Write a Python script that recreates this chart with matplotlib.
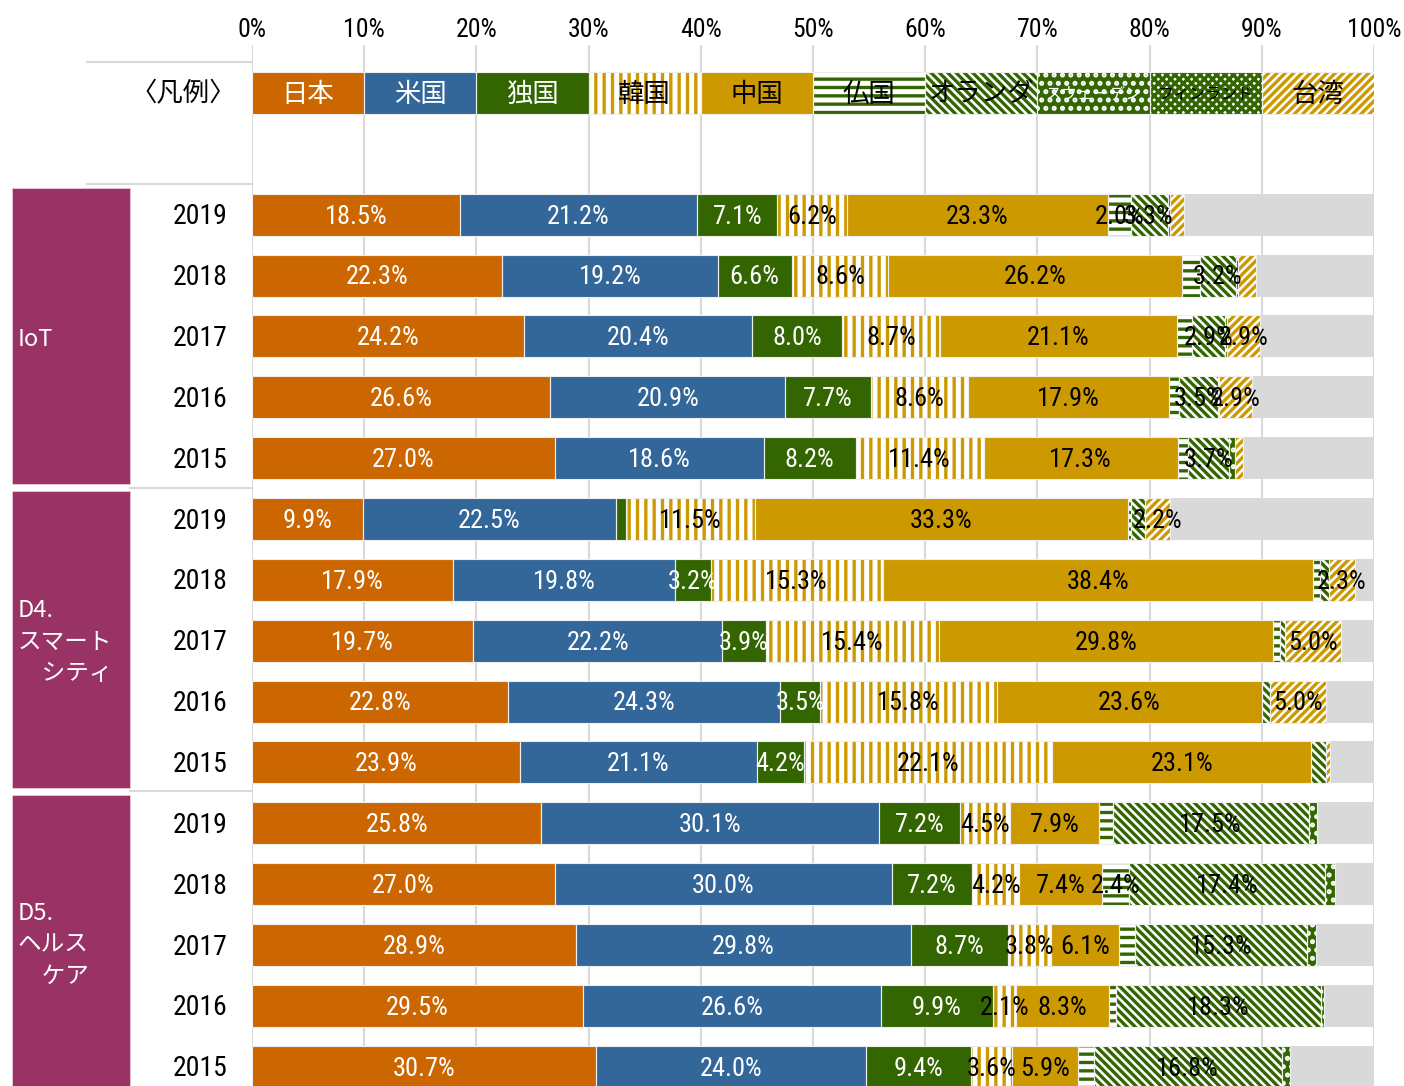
import matplotlib
matplotlib.use("Agg")
import matplotlib.pyplot as plt
from matplotlib.patches import Rectangle

plt.rcParams['hatch.linewidth'] = 2.4

JP_FONT = ['Noto Sans CJK JP', 'DejaVu Sans']
NUM_FONT = ['Roboto Condensed', 'Liberation Sans Narrow', 'Roboto', 'DejaVu Sans']

countries = ['日本', '米国', '独国', '韓国', '中国', '仏国', 'オランダ', 'スウェーデン', 'フィンランド', '台湾']
years = ['2019', '2018', '2017', '2016', '2015']
groups = ['IoT', 'D4.\nスマート\n\u3000シティ', 'D5.\nヘルス\n\u3000ケア']

# shares (%) per year, in country order above; the rest up to 100% is grey
iot = [
    [18.5, 21.2, 7.1, 6.2, 23.3, 2.0, 3.3, 0.2, 0.0, 1.3],
    [22.3, 19.2, 6.6, 8.6, 26.2, 1.6, 3.2, 0.2, 0.0, 1.6],
    [24.2, 20.4, 8.0, 8.7, 21.1, 1.4, 2.9, 0.2, 0.0, 2.9],
    [26.6, 20.9, 7.7, 8.6, 17.9, 0.9, 3.5, 0.1, 0.0, 2.9],
    [27.0, 18.6, 8.2, 11.4, 17.3, 0.9, 3.7, 0.5, 0.0, 0.7],
]
smart_city = [
    [9.9, 22.5, 0.9, 11.5, 33.3, 0.2, 1.3, 0.0, 0.0, 2.2],
    [17.9, 19.8, 3.2, 15.3, 38.4, 0.6, 0.8, 0.0, 0.0, 2.3],
    [19.7, 22.2, 3.9, 15.4, 29.8, 0.6, 0.5, 0.0, 0.0, 5.0],
    [22.8, 24.3, 3.5, 15.8, 23.6, 0.0, 0.7, 0.0, 0.0, 5.0],
    [23.9, 21.1, 4.2, 22.1, 23.1, 0.0, 1.3, 0.0, 0.0, 0.4],
]
healthcare = [
    [25.8, 30.1, 7.2, 4.5, 7.9, 1.2, 17.5, 0.7, 0.0, 0.0],
    [27.0, 30.0, 7.2, 4.2, 7.4, 2.4, 17.4, 0.9, 0.0, 0.0],
    [28.9, 29.8, 8.7, 3.8, 6.1, 1.4, 15.3, 0.8, 0.0, 0.0],
    [29.5, 26.6, 9.9, 2.1, 8.3, 0.6, 18.3, 0.2, 0.0, 0.0],
    [30.7, 24.0, 9.4, 3.6, 5.9, 1.4, 16.8, 0.7, 0.0, 0.0],
]

ORANGE = '#CC6600'
BLUE = '#336699'
GREEN = '#336600'
GOLD = '#CC9900'
GREY = '#D9D9D9'
MAROON = '#993366'

# (face, hatch colour, hatch, text colour)
styles = [
    (ORANGE, None, None, 'white'),
    (BLUE, None, None, 'white'),
    (GREEN, None, None, 'white'),
    ('white', GOLD, '||', 'black'),
    (GOLD, None, None, 'black'),
    ('white', GREEN, '--', 'black'),
    ('white', GREEN, '\\\\\\\\', 'black'),
    (GREEN, 'white', '..', 'white'),
    ('white', GREEN, 'xxxx', 'black'),
    ('white', GOLD, '////', 'black'),
]

ROW_PX = 60.86
def row_of(p):
    return (p - 93) / ROW_PX

BAR_H = 0.69

fig = plt.figure(figsize=(14.04, 10.86), dpi=100)

# left label panel, in pixel units
lax = fig.add_axes([0, 0, 252 / 1404, 1])
lax.set_xlim(0, 252)
lax.set_ylim(1086, 0)
lax.axis('off')

ax = fig.add_axes([252 / 1404, 0, 1122 / 1404, 1])
ax.set_xlim(0, 100)
ax.set_ylim(row_of(1086), row_of(0))
ax.axis('off')

# grid
for x in range(0, 101, 10):
    ax.plot([x, x], [row_of(46), row_of(1086)], color=GREY, lw=1.5, zorder=0)
    ax.text(x, row_of(30), f'{x}%', ha='center', va='center', fontsize=18.5,
            family=NUM_FONT, fontstretch='condensed', clip_on=False)

def seg(y, left, w, st):
    face, hc, hatch, _ = st
    if hatch:
        ax.barh(y, w, left=left, height=BAR_H, color=face, edgecolor=hc,
                hatch=hatch, lw=0, zorder=2)
    else:
        ax.barh(y, w, left=left, height=BAR_H, color=face, lw=0, zorder=2)
    ax.barh(y, w, left=left, height=BAR_H, fill=False, edgecolor='#EEEEEE',
            lw=0.8, zorder=3)

# legend row
for i, (name, st) in enumerate(zip(countries, styles)):
    seg(0, i * 10, 10, st)
    small = len(name) > 4
    ax.text(i * 10 + 5, row_of(94), name, ha='center', va='center', color=st[3],
            fontsize=11.5 if small else 19, family=JP_FONT, zorder=4)
lax.text(236, 94, '〈凡例〉', ha='right', va='center', fontsize=19, family=JP_FONT)

# data rows
all_rows = iot + smart_city + healthcare
for r, vals in enumerate(all_rows):
    y = 2 + r
    left = 0.0
    for v, st in zip(vals, styles):
        if v > 0:
            seg(y, left, v, st)
            if v >= 2.0:
                ax.text(left + v / 2, y + 0.03, f'{v:.1f}%', ha='center', va='center',
                        color=st[3], fontsize=19, family=NUM_FONT,
                        fontstretch='condensed', zorder=4)
        left += v
    ax.barh(y, 100 - left, left=left, height=BAR_H, color=GREY, lw=0, zorder=1)
    lax.text(228, 95 + ROW_PX * y, years[r % 5], ha='right', va='center',
             fontsize=20, family=NUM_FONT, fontstretch='condensed')

# group boxes and separators
boxes = [(188, 484), (491, 788), (795, 1090)]
label_y = [339, 642, 945]
for (top, bot), name, ly in zip(boxes, groups, label_y):
    lax.add_patch(Rectangle((12, top), 118, bot - top, facecolor=MAROON,
                            edgecolor='#E8C8D8', lw=0.6))
    lax.text(18, ly, name, ha='left', va='center', color='white',
             fontsize=17, family=JP_FONT, linespacing=1.45)

for y, x0 in [(62, 87), (184, 87), (488, 130), (791, 130)]:
    lax.plot([x0, 252], [y, y], color=GREY, lw=1.5)

fig.savefig('out.png', dpi=100)
